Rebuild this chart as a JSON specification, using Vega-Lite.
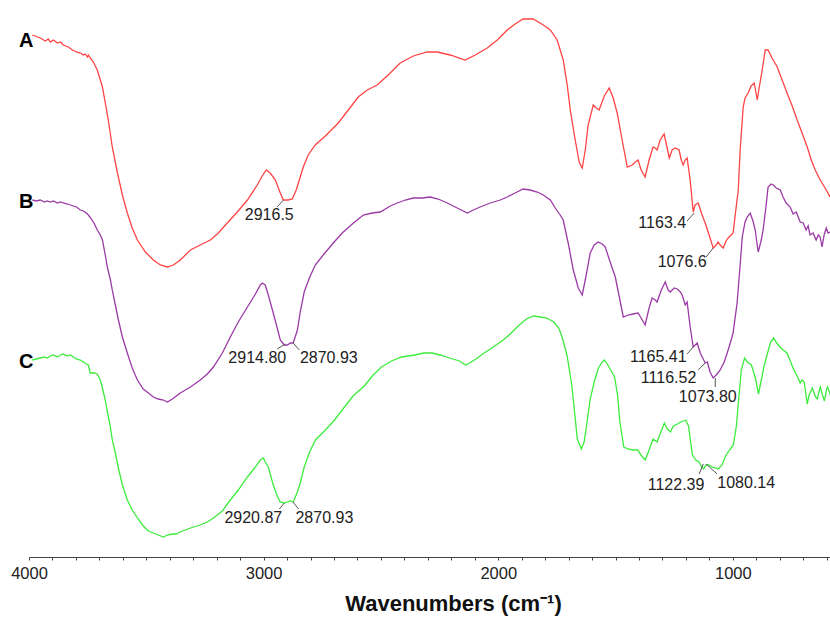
{
  "$schema": "https://vega.github.io/schema/vega-lite/v6.json",
  "width": 801,
  "height": 557,
  "autosize": {"type": "none"},
  "padding": {"left": 29, "top": 0, "right": 0, "bottom": 60},
  "background": "white",
  "config": {"view": {"stroke": null}},
  "datasets": {
    "spec": [
      {"s":"A","w":3986,"a":35},{"s":"A","w":3952,"a":38},{"s":"A","w":3930,"a":41},{"s":"A","w":3918,"a":39},{"s":"A","w":3909,"a":42},{"s":"A","w":3896,"a":40},{"s":"A","w":3879,"a":43},{"s":"A","w":3866,"a":42},{"s":"A","w":3854,"a":45},{"s":"A","w":3832,"a":47},{"s":"A","w":3815,"a":50},{"s":"A","w":3798,"a":52},{"s":"A","w":3781,"a":53},{"s":"A","w":3768,"a":55},{"s":"A","w":3760,"a":54},{"s":"A","w":3751,"a":57},{"s":"A","w":3747,"a":55},{"s":"A","w":3739,"a":58},{"s":"A","w":3726,"a":62},{"s":"A","w":3709,"a":70},{"s":"A","w":3687,"a":87},{"s":"A","w":3662,"a":120},{"s":"A","w":3645,"a":147},{"s":"A","w":3623,"a":173},{"s":"A","w":3602,"a":195},{"s":"A","w":3581,"a":213},{"s":"A","w":3560,"a":228},{"s":"A","w":3538,"a":240},{"s":"A","w":3504,"a":252},{"s":"A","w":3470,"a":260},{"s":"A","w":3440,"a":265},{"s":"A","w":3410,"a":267},{"s":"A","w":3385,"a":265},{"s":"A","w":3355,"a":260},{"s":"A","w":3312,"a":250},{"s":"A","w":3270,"a":245},{"s":"A","w":3227,"a":240},{"s":"A","w":3193,"a":233},{"s":"A","w":3155,"a":223},{"s":"A","w":3112,"a":212},{"s":"A","w":3069,"a":200},{"s":"A","w":3027,"a":185},{"s":"A","w":3006,"a":176},{"s":"A","w":2989,"a":170},{"s":"A","w":2972,"a":173},{"s":"A","w":2950,"a":180},{"s":"A","w":2929,"a":193},{"s":"A","w":2916,"a":200},{"s":"A","w":2895,"a":200},{"s":"A","w":2878,"a":199},{"s":"A","w":2861,"a":190},{"s":"A","w":2844,"a":177},{"s":"A","w":2831,"a":167},{"s":"A","w":2810,"a":155},{"s":"A","w":2780,"a":145},{"s":"A","w":2737,"a":136},{"s":"A","w":2682,"a":123},{"s":"A","w":2639,"a":110},{"s":"A","w":2597,"a":97},{"s":"A","w":2558,"a":90},{"s":"A","w":2516,"a":85},{"s":"A","w":2469,"a":75},{"s":"A","w":2418,"a":63},{"s":"A","w":2362,"a":56},{"s":"A","w":2303,"a":52},{"s":"A","w":2260,"a":52},{"s":"A","w":2205,"a":55},{"s":"A","w":2141,"a":60},{"s":"A","w":2098,"a":55},{"s":"A","w":2047,"a":48},{"s":"A","w":2004,"a":40},{"s":"A","w":1962,"a":30},{"s":"A","w":1928,"a":24},{"s":"A","w":1894,"a":19},{"s":"A","w":1851,"a":19},{"s":"A","w":1808,"a":25},{"s":"A","w":1778,"a":30},{"s":"A","w":1749,"a":40},{"s":"A","w":1736,"a":50},{"s":"A","w":1723,"a":60},{"s":"A","w":1706,"a":85},{"s":"A","w":1693,"a":110},{"s":"A","w":1672,"a":140},{"s":"A","w":1655,"a":162},{"s":"A","w":1642,"a":168},{"s":"A","w":1629,"a":150},{"s":"A","w":1617,"a":125},{"s":"A","w":1595,"a":105},{"s":"A","w":1582,"a":108},{"s":"A","w":1570,"a":110},{"s":"A","w":1548,"a":96},{"s":"A","w":1527,"a":88},{"s":"A","w":1510,"a":98},{"s":"A","w":1493,"a":113},{"s":"A","w":1472,"a":140},{"s":"A","w":1450,"a":167},{"s":"A","w":1429,"a":165},{"s":"A","w":1416,"a":162},{"s":"A","w":1404,"a":160},{"s":"A","w":1391,"a":170},{"s":"A","w":1374,"a":177},{"s":"A","w":1357,"a":160},{"s":"A","w":1340,"a":147},{"s":"A","w":1331,"a":148},{"s":"A","w":1323,"a":150},{"s":"A","w":1310,"a":140},{"s":"A","w":1293,"a":134},{"s":"A","w":1280,"a":148},{"s":"A","w":1271,"a":158},{"s":"A","w":1259,"a":150},{"s":"A","w":1246,"a":148},{"s":"A","w":1229,"a":150},{"s":"A","w":1220,"a":160},{"s":"A","w":1212,"a":165},{"s":"A","w":1203,"a":160},{"s":"A","w":1195,"a":158},{"s":"A","w":1182,"a":180},{"s":"A","w":1169,"a":212},{"s":"A","w":1161,"a":205},{"s":"A","w":1148,"a":203},{"s":"A","w":1131,"a":215},{"s":"A","w":1118,"a":223},{"s":"A","w":1097,"a":238},{"s":"A","w":1084,"a":248},{"s":"A","w":1071,"a":245},{"s":"A","w":1063,"a":242},{"s":"A","w":1054,"a":245},{"s":"A","w":1041,"a":248},{"s":"A","w":1029,"a":241},{"s":"A","w":1020,"a":238},{"s":"A","w":999,"a":233},{"s":"A","w":990,"a":215},{"s":"A","w":977,"a":190},{"s":"A","w":969,"a":150},{"s":"A","w":956,"a":107},{"s":"A","w":948,"a":98},{"s":"A","w":935,"a":93},{"s":"A","w":922,"a":86},{"s":"A","w":909,"a":83},{"s":"A","w":896,"a":100},{"s":"A","w":888,"a":88},{"s":"A","w":875,"a":70},{"s":"A","w":862,"a":50},{"s":"A","w":850,"a":50},{"s":"A","w":833,"a":58},{"s":"A","w":811,"a":67},{"s":"A","w":790,"a":80},{"s":"A","w":769,"a":93},{"s":"A","w":747,"a":106},{"s":"A","w":726,"a":120},{"s":"A","w":705,"a":133},{"s":"A","w":683,"a":147},{"s":"A","w":666,"a":160},{"s":"A","w":649,"a":170},{"s":"A","w":632,"a":178},{"s":"A","w":620,"a":183},{"s":"A","w":602,"a":190},{"s":"A","w":586,"a":197},

      {"s":"B","w":3986,"a":200},{"s":"B","w":3969,"a":201},{"s":"B","w":3952,"a":200},{"s":"B","w":3934,"a":202},{"s":"B","w":3922,"a":201},{"s":"B","w":3909,"a":202},{"s":"B","w":3896,"a":201},{"s":"B","w":3879,"a":203},{"s":"B","w":3866,"a":202},{"s":"B","w":3854,"a":203},{"s":"B","w":3837,"a":204},{"s":"B","w":3824,"a":205},{"s":"B","w":3811,"a":206},{"s":"B","w":3798,"a":207},{"s":"B","w":3781,"a":210},{"s":"B","w":3768,"a":211},{"s":"B","w":3756,"a":213},{"s":"B","w":3747,"a":215},{"s":"B","w":3734,"a":219},{"s":"B","w":3721,"a":224},{"s":"B","w":3709,"a":230},{"s":"B","w":3696,"a":235},{"s":"B","w":3687,"a":240},{"s":"B","w":3675,"a":255},{"s":"B","w":3666,"a":267},{"s":"B","w":3653,"a":280},{"s":"B","w":3645,"a":290},{"s":"B","w":3632,"a":305},{"s":"B","w":3619,"a":320},{"s":"B","w":3602,"a":337},{"s":"B","w":3581,"a":353},{"s":"B","w":3560,"a":368},{"s":"B","w":3538,"a":380},{"s":"B","w":3513,"a":389},{"s":"B","w":3491,"a":393},{"s":"B","w":3470,"a":397},{"s":"B","w":3449,"a":399},{"s":"B","w":3427,"a":400},{"s":"B","w":3410,"a":402},{"s":"B","w":3389,"a":399},{"s":"B","w":3372,"a":396},{"s":"B","w":3355,"a":393},{"s":"B","w":3312,"a":387},{"s":"B","w":3270,"a":380},{"s":"B","w":3240,"a":374},{"s":"B","w":3214,"a":367},{"s":"B","w":3176,"a":353},{"s":"B","w":3142,"a":337},{"s":"B","w":3108,"a":322},{"s":"B","w":3069,"a":307},{"s":"B","w":3035,"a":294},{"s":"B","w":3014,"a":285},{"s":"B","w":3006,"a":283},{"s":"B","w":2993,"a":285},{"s":"B","w":2980,"a":295},{"s":"B","w":2959,"a":313},{"s":"B","w":2942,"a":328},{"s":"B","w":2929,"a":340},{"s":"B","w":2912,"a":345},{"s":"B","w":2899,"a":345},{"s":"B","w":2886,"a":343},{"s":"B","w":2874,"a":343},{"s":"B","w":2856,"a":330},{"s":"B","w":2844,"a":312},{"s":"B","w":2827,"a":292},{"s":"B","w":2805,"a":278},{"s":"B","w":2780,"a":265},{"s":"B","w":2746,"a":255},{"s":"B","w":2703,"a":243},{"s":"B","w":2665,"a":233},{"s":"B","w":2622,"a":224},{"s":"B","w":2575,"a":215},{"s":"B","w":2537,"a":213},{"s":"B","w":2503,"a":212},{"s":"B","w":2460,"a":206},{"s":"B","w":2430,"a":203},{"s":"B","w":2396,"a":200},{"s":"B","w":2362,"a":198},{"s":"B","w":2324,"a":198},{"s":"B","w":2290,"a":197},{"s":"B","w":2256,"a":199},{"s":"B","w":2217,"a":203},{"s":"B","w":2175,"a":208},{"s":"B","w":2132,"a":213},{"s":"B","w":2106,"a":210},{"s":"B","w":2077,"a":207},{"s":"B","w":2034,"a":203},{"s":"B","w":1991,"a":200},{"s":"B","w":1962,"a":197},{"s":"B","w":1928,"a":193},{"s":"B","w":1894,"a":189},{"s":"B","w":1864,"a":190},{"s":"B","w":1834,"a":192},{"s":"B","w":1808,"a":195},{"s":"B","w":1778,"a":200},{"s":"B","w":1757,"a":208},{"s":"B","w":1736,"a":215},{"s":"B","w":1723,"a":220},{"s":"B","w":1702,"a":243},{"s":"B","w":1680,"a":270},{"s":"B","w":1659,"a":288},{"s":"B","w":1642,"a":295},{"s":"B","w":1625,"a":275},{"s":"B","w":1608,"a":253},{"s":"B","w":1591,"a":245},{"s":"B","w":1574,"a":242},{"s":"B","w":1557,"a":244},{"s":"B","w":1544,"a":247},{"s":"B","w":1523,"a":262},{"s":"B","w":1501,"a":277},{"s":"B","w":1484,"a":297},{"s":"B","w":1467,"a":317},{"s":"B","w":1446,"a":315},{"s":"B","w":1425,"a":314},{"s":"B","w":1404,"a":313},{"s":"B","w":1391,"a":318},{"s":"B","w":1374,"a":325},{"s":"B","w":1357,"a":308},{"s":"B","w":1344,"a":298},{"s":"B","w":1331,"a":300},{"s":"B","w":1323,"a":302},{"s":"B","w":1305,"a":290},{"s":"B","w":1288,"a":282},{"s":"B","w":1276,"a":290},{"s":"B","w":1267,"a":292},{"s":"B","w":1250,"a":288},{"s":"B","w":1237,"a":289},{"s":"B","w":1224,"a":292},{"s":"B","w":1216,"a":295},{"s":"B","w":1203,"a":305},{"s":"B","w":1195,"a":302},{"s":"B","w":1182,"a":327},{"s":"B","w":1169,"a":347},{"s":"B","w":1152,"a":343},{"s":"B","w":1139,"a":353},{"s":"B","w":1118,"a":363},{"s":"B","w":1109,"a":362},{"s":"B","w":1097,"a":372},{"s":"B","w":1084,"a":378},{"s":"B","w":1071,"a":375},{"s":"B","w":1054,"a":370},{"s":"B","w":1037,"a":362},{"s":"B","w":1024,"a":353},{"s":"B","w":1011,"a":343},{"s":"B","w":999,"a":333},{"s":"B","w":982,"a":303},{"s":"B","w":969,"a":265},{"s":"B","w":960,"a":237},{"s":"B","w":948,"a":222},{"s":"B","w":939,"a":217},{"s":"B","w":926,"a":213},{"s":"B","w":913,"a":222},{"s":"B","w":905,"a":230},{"s":"B","w":892,"a":252},{"s":"B","w":879,"a":240},{"s":"B","w":871,"a":230},{"s":"B","w":858,"a":205},{"s":"B","w":850,"a":187},{"s":"B","w":837,"a":184},{"s":"B","w":828,"a":185},{"s":"B","w":815,"a":188},{"s":"B","w":798,"a":190},{"s":"B","w":786,"a":197},{"s":"B","w":773,"a":203},{"s":"B","w":756,"a":207},{"s":"B","w":743,"a":214},{"s":"B","w":730,"a":212},{"s":"B","w":713,"a":222},{"s":"B","w":700,"a":223},{"s":"B","w":688,"a":230},{"s":"B","w":679,"a":226},{"s":"B","w":671,"a":235},{"s":"B","w":658,"a":233},{"s":"B","w":645,"a":240},{"s":"B","w":636,"a":235},{"s":"B","w":628,"a":237},{"s":"B","w":620,"a":247},{"s":"B","w":611,"a":235},{"s":"B","w":602,"a":228},{"s":"B","w":594,"a":233},{"s":"B","w":586,"a":232},

      {"s":"C","w":3986,"a":360},{"s":"C","w":3969,"a":359},{"s":"C","w":3952,"a":358},{"s":"C","w":3934,"a":357},{"s":"C","w":3922,"a":358},{"s":"C","w":3909,"a":356},{"s":"C","w":3896,"a":355},{"s":"C","w":3879,"a":357},{"s":"C","w":3866,"a":355},{"s":"C","w":3854,"a":354},{"s":"C","w":3837,"a":356},{"s":"C","w":3824,"a":355},{"s":"C","w":3811,"a":357},{"s":"C","w":3798,"a":359},{"s":"C","w":3781,"a":360},{"s":"C","w":3768,"a":362},{"s":"C","w":3756,"a":364},{"s":"C","w":3747,"a":365},{"s":"C","w":3739,"a":373},{"s":"C","w":3721,"a":373},{"s":"C","w":3709,"a":374},{"s":"C","w":3696,"a":380},{"s":"C","w":3687,"a":388},{"s":"C","w":3675,"a":400},{"s":"C","w":3666,"a":412},{"s":"C","w":3653,"a":427},{"s":"C","w":3645,"a":440},{"s":"C","w":3632,"a":453},{"s":"C","w":3619,"a":468},{"s":"C","w":3602,"a":485},{"s":"C","w":3581,"a":500},{"s":"C","w":3560,"a":510},{"s":"C","w":3538,"a":518},{"s":"C","w":3513,"a":526},{"s":"C","w":3491,"a":531},{"s":"C","w":3470,"a":533},{"s":"C","w":3449,"a":535},{"s":"C","w":3427,"a":537},{"s":"C","w":3410,"a":535},{"s":"C","w":3389,"a":534},{"s":"C","w":3372,"a":534},{"s":"C","w":3355,"a":532},{"s":"C","w":3312,"a":528},{"s":"C","w":3270,"a":525},{"s":"C","w":3240,"a":522},{"s":"C","w":3214,"a":518},{"s":"C","w":3176,"a":511},{"s":"C","w":3142,"a":500},{"s":"C","w":3108,"a":490},{"s":"C","w":3069,"a":477},{"s":"C","w":3035,"a":467},{"s":"C","w":3014,"a":460},{"s":"C","w":3001,"a":458},{"s":"C","w":2993,"a":462},{"s":"C","w":2980,"a":467},{"s":"C","w":2959,"a":485},{"s":"C","w":2942,"a":496},{"s":"C","w":2929,"a":502},{"s":"C","w":2912,"a":503},{"s":"C","w":2899,"a":502},{"s":"C","w":2886,"a":501},{"s":"C","w":2874,"a":502},{"s":"C","w":2856,"a":492},{"s":"C","w":2844,"a":483},{"s":"C","w":2827,"a":467},{"s":"C","w":2804,"a":452},{"s":"C","w":2779,"a":440},{"s":"C","w":2745,"a":432},{"s":"C","w":2701,"a":421},{"s":"C","w":2662,"a":409},{"s":"C","w":2619,"a":396},{"s":"C","w":2571,"a":386},{"s":"C","w":2533,"a":375},{"s":"C","w":2498,"a":367},{"s":"C","w":2455,"a":361},{"s":"C","w":2412,"a":357},{"s":"C","w":2355,"a":355},{"s":"C","w":2317,"a":353},{"s":"C","w":2282,"a":353},{"s":"C","w":2248,"a":355},{"s":"C","w":2208,"a":358},{"s":"C","w":2165,"a":361},{"s":"C","w":2139,"a":365},{"s":"C","w":2122,"a":363},{"s":"C","w":2095,"a":359},{"s":"C","w":2066,"a":354},{"s":"C","w":2022,"a":347},{"s":"C","w":1979,"a":340},{"s":"C","w":1949,"a":334},{"s":"C","w":1915,"a":326},{"s":"C","w":1880,"a":319},{"s":"C","w":1850,"a":316},{"s":"C","w":1820,"a":317},{"s":"C","w":1793,"a":318},{"s":"C","w":1763,"a":322},{"s":"C","w":1742,"a":328},{"s":"C","w":1728,"a":337},{"s":"C","w":1707,"a":355},{"s":"C","w":1686,"a":386},{"s":"C","w":1663,"a":439},{"s":"C","w":1646,"a":449},{"s":"C","w":1634,"a":442},{"s":"C","w":1621,"a":421},{"s":"C","w":1608,"a":399},{"s":"C","w":1590,"a":381},{"s":"C","w":1573,"a":368},{"s":"C","w":1556,"a":362},{"s":"C","w":1547,"a":360},{"s":"C","w":1535,"a":364},{"s":"C","w":1521,"a":370},{"s":"C","w":1504,"a":377},{"s":"C","w":1491,"a":396},{"s":"C","w":1482,"a":421},{"s":"C","w":1465,"a":447},{"s":"C","w":1447,"a":449},{"s":"C","w":1426,"a":450},{"s":"C","w":1405,"a":450},{"s":"C","w":1392,"a":455},{"s":"C","w":1374,"a":460},{"s":"C","w":1357,"a":450},{"s":"C","w":1340,"a":439},{"s":"C","w":1323,"a":442},{"s":"C","w":1310,"a":434},{"s":"C","w":1292,"a":423},{"s":"C","w":1279,"a":429},{"s":"C","w":1266,"a":432},{"s":"C","w":1254,"a":426},{"s":"C","w":1236,"a":424},{"s":"C","w":1223,"a":422},{"s":"C","w":1210,"a":421},{"s":"C","w":1201,"a":420},{"s":"C","w":1189,"a":426},{"s":"C","w":1180,"a":442},{"s":"C","w":1172,"a":455},{"s":"C","w":1158,"a":460},{"s":"C","w":1145,"a":462},{"s":"C","w":1132,"a":467},{"s":"C","w":1124,"a":469},{"s":"C","w":1115,"a":465},{"s":"C","w":1102,"a":465},{"s":"C","w":1089,"a":467},{"s":"C","w":1072,"a":468},{"s":"C","w":1063,"a":469},{"s":"C","w":1046,"a":465},{"s":"C","w":1029,"a":455},{"s":"C","w":1011,"a":449},{"s":"C","w":998,"a":445},{"s":"C","w":985,"a":426},{"s":"C","w":977,"a":404},{"s":"C","w":964,"a":370},{"s":"C","w":950,"a":358},{"s":"C","w":938,"a":362},{"s":"C","w":921,"a":365},{"s":"C","w":904,"a":378},{"s":"C","w":891,"a":394},{"s":"C","w":877,"a":378},{"s":"C","w":868,"a":367},{"s":"C","w":851,"a":352},{"s":"C","w":839,"a":342},{"s":"C","w":826,"a":338},{"s":"C","w":813,"a":343},{"s":"C","w":799,"a":347},{"s":"C","w":786,"a":350},{"s":"C","w":769,"a":353},{"s":"C","w":757,"a":360},{"s":"C","w":740,"a":370},{"s":"C","w":726,"a":376},{"s":"C","w":713,"a":383},{"s":"C","w":705,"a":380},{"s":"C","w":696,"a":382},{"s":"C","w":683,"a":404},{"s":"C","w":675,"a":395},{"s":"C","w":661,"a":388},{"s":"C","w":648,"a":397},{"s":"C","w":640,"a":399},{"s":"C","w":631,"a":390},{"s":"C","w":627,"a":387},{"s":"C","w":618,"a":395},{"s":"C","w":610,"a":401},{"s":"C","w":601,"a":390},{"s":"C","w":597,"a":387},{"s":"C","w":588,"a":392},{"s":"C","w":583,"a":397}
    ],
    "lead": [
      {"w":2915,"a":200,"w2":2943,"a2":207},
      {"w":1165,"a":213,"w2":1195,"a2":221},
      {"w":1084,"a":248,"w2":1114,"a2":257},
      {"w":2908,"a":344,"w2":2942,"a2":349},
      {"w":2874,"a":343,"w2":2848,"a2":350},
      {"w":1169,"a":347,"w2":1195,"a2":354},
      {"w":1118,"a":363,"w2":1148,"a2":370},
      {"w":1075,"a":378,"w2":1075,"a2":387},
      {"w":2912,"a":503,"w2":2933,"a2":509},
      {"w":2875,"a":502,"w2":2851,"a2":509},
      {"w":1126,"a":464,"w2":1144,"a2":474},
      {"w":1114,"a":464,"w2":1067,"a2":474}
    ],
    "ann": [
      {"w":2976,"a":220,"label":"2916.5"},
      {"w":1301,"a":228,"label":"1163.4"},
      {"w":1216,"a":267,"label":"1076.6"},
      {"w":3027,"a":363,"label":"2914.80"},
      {"w":2722,"a":363,"label":"2870.93"},
      {"w":1318,"a":362,"label":"1165.41"},
      {"w":1274,"a":383,"label":"1116.52"},
      {"w":1107,"a":402,"label":"1073.80"},
      {"w":3044,"a":523,"label":"2920.87"},
      {"w":2741,"a":523,"label":"2870.93"},
      {"w":1242,"a":490,"label":"1122.39"},
      {"w":943,"a":488,"label":"1080.14"}
    ],
    "ids": [
      {"w":3981,"a":47,"label":"A"},
      {"w":3981,"a":208,"label":"B"},
      {"w":3981,"a":368,"label":"C"}
    ]
  },
  "encoding": {
    "x": {
      "field": "w", "type": "quantitative",
      "scale": {"domain": [4000, 586], "nice": false, "zero": false},
      "axis": {
        "values": [4000,3900,3800,3700,3600,3500,3400,3300,3200,3100,3000,2900,2800,2700,2600,2500,2400,2300,2200,2100,2000,1900,1800,1700,1600,1500,1400,1300,1200,1100,1000,900,800,700,600],
        "labelExpr": "datum.value % 1000 === 0 ? datum.label : ''",
        "labelOverlap": false, "labelFlush": false, "labelBound": false,
        "grid": false, "tickSize": 3, "labelPadding": 5,
        "domainColor": "#444", "tickColor": "#444", "domainWidth": 1,
        "labelFont": "Liberation Sans", "labelFontSize": 16.5, "labelColor": "#222",
        "format": "d",
        "title": "Wavenumbers (cm⁻¹)",
        "titleFont": "Liberation Sans", "titleFontSize": 22, "titleFontWeight": "bold", "titleColor": "#111",
        "titleX": 424, "titleY": 53, "titleAlign": "center", "titleBaseline": "alphabetic"
      }
    },
    "y": {
      "field": "a", "type": "quantitative",
      "scale": {"domain": [0, 557], "reverse": true, "nice": false, "zero": false},
      "axis": null
    }
  },
  "layer": [
    {
      "data": {"name": "spec"},
      "mark": {"type": "line", "strokeWidth": 1.3, "clip": true},
      "encoding": {
        "color": {"field": "s", "type": "nominal", "scale": {"domain": ["A","B","C"], "range": ["#ff4444", "#9b3aa6", "#3cec3c"]}, "legend": null}
      }
    },
    {
      "data": {"name": "lead"},
      "mark": {"type": "rule", "color": "#555", "strokeWidth": 1},
      "encoding": {
        "x2": {"field": "w2"},
        "y2": {"field": "a2"}
      }
    },
    {
      "data": {"name": "ann"},
      "mark": {"type": "text", "font": "Liberation Sans", "fontSize": 16, "color": "#222", "align": "center", "baseline": "alphabetic"},
      "encoding": {"text": {"field": "label"}}
    },
    {
      "data": {"name": "ids"},
      "mark": {"type": "text", "font": "Liberation Sans", "fontSize": 20, "fontWeight": "bold", "color": "#000", "align": "right", "baseline": "alphabetic"},
      "encoding": {"text": {"field": "label"}}
    }
  ]
}
